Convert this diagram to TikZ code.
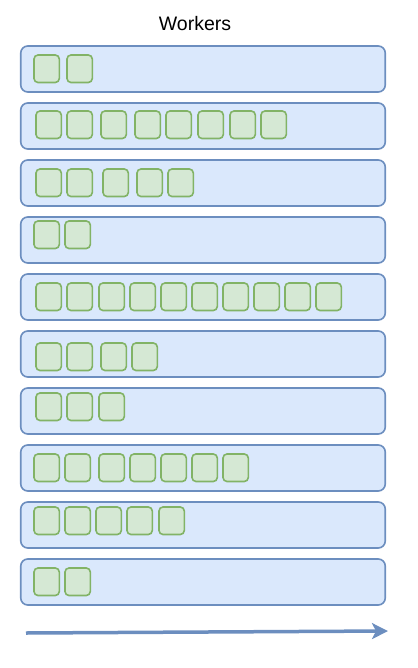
\documentclass[tikz,border=0pt]{standalone}
\usepackage{fontspec}
\setmainfont{Liberation Sans}
\usetikzlibrary{arrows.meta}
\definecolor{laneblue}{HTML}{DAE8FC}
\definecolor{lanedraw}{HTML}{6C8EBF}
\definecolor{taskgreen}{HTML}{D5E8D4}
\definecolor{taskdraw}{HTML}{82B366}
\tikzset{
  lane/.style={draw=lanedraw, fill=laneblue, line width=1.6pt, rounded corners=7pt,
    minimum width=364.5pt, minimum height=46pt, inner sep=0pt},
  task/.style={draw=taskdraw, fill=taskgreen, line width=1.6pt, rounded corners=4pt,
    minimum width=25.3pt, minimum height=27.5pt, inner sep=0pt},
  flow/.style={draw=lanedraw, line width=3.5pt, -{Stealth[length=16pt,width=16pt,inset=4pt]}}
}

\begin{document}
\begin{tikzpicture}[x=1pt,y=-1pt]
            \useasboundingbox (0,0) rectangle (417,668);
            \node[anchor=base, font=\fontsize{19.5}{22}\selectfont] (title) at (195,31) {Workers};

            % one lane per worker, tasks start at the left
            \foreach \r/\off/\xs in {1/9/{34,67},
                                     2/8/{36,67,101,135,166,198,230,261},
                                     3/9/{36,67,103,137,168},
                                     4/4/{34,65},
                                     5/9/{36,67,99,130,161,192,223,254,285,316},
                                     6/12/{36,67,101,132},
                                     7/5/{36,67,99},
                                     8/9/{34,65,99,130,161,192,223},
                                     9/5/{34,65,96,127,159},
                                     10/9/{34,65}}{
              \pgfmathsetmacro\ytop{46+57*(\r-1)}
              \node[lane] (lane\r) at (203,\ytop+23) {};
              \foreach \x [count=\i] in \xs
                \node[task] (w\r-\i) at (\x+12.65,\ytop+\off+13.75) {};
            }

            \coordinate (tstart) at (26,633);
            \coordinate (tend) at (388,631);
            \draw[flow] (tstart)--(tend);
        \end{tikzpicture}
\end{document}
